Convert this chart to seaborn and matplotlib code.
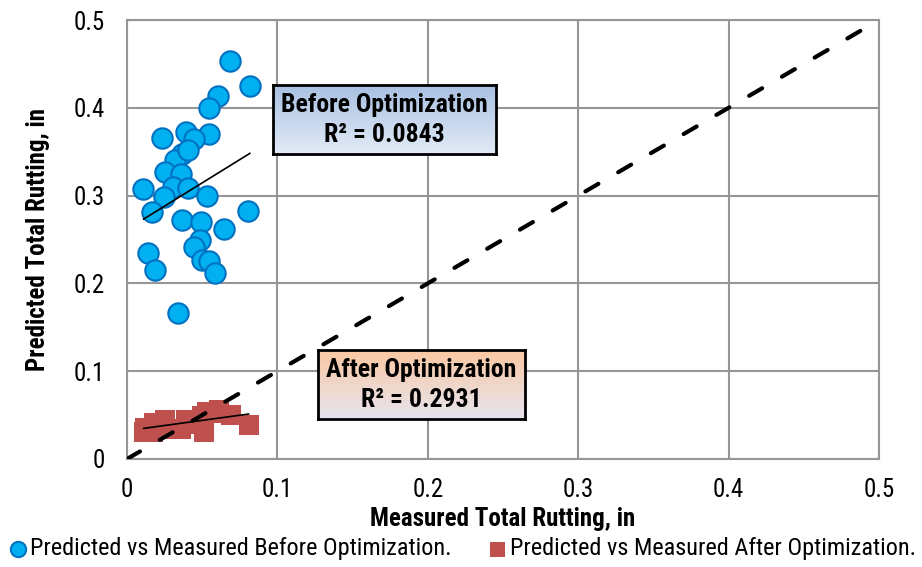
import numpy as np
import pandas as pd
import matplotlib
matplotlib.use("Agg")
import matplotlib.pyplot as plt
from matplotlib import font_manager
import seaborn as sns

# Measured vs predicted total rutting (in), before optimization
before_measured = [0.0685, 0.0818, 0.0603, 0.0547, 0.0235, 0.0392, 0.0547, 0.0445,
                   0.0364, 0.0319, 0.0408, 0.0253, 0.0357, 0.0109, 0.0308, 0.0408,
                   0.0248, 0.0534, 0.0168, 0.0807, 0.0368, 0.0492, 0.0647, 0.0485,
                   0.0445, 0.0142, 0.0497, 0.0545, 0.0186, 0.0585, 0.0337]
before_predicted = [0.453, 0.425, 0.413, 0.400, 0.366, 0.372, 0.370, 0.364,
                    0.347, 0.340, 0.352, 0.327, 0.325, 0.307, 0.310, 0.309,
                    0.298, 0.299, 0.281, 0.282, 0.272, 0.270, 0.262, 0.249,
                    0.241, 0.235, 0.227, 0.226, 0.215, 0.212, 0.166]

# Measured vs predicted total rutting (in), after optimization
after_measured = [0.011, 0.012, 0.017, 0.018, 0.025, 0.027, 0.036, 0.039, 0.042,
                  0.047, 0.050, 0.051, 0.053, 0.057, 0.061, 0.069, 0.081]
after_predicted = [0.031, 0.035, 0.031, 0.041, 0.045, 0.034, 0.034, 0.045, 0.040,
                   0.045, 0.049, 0.031, 0.054, 0.052, 0.056, 0.050, 0.039]

# Line of equality
equality_x = [0.0, 0.49]
equality_y = [0.0, 0.49]

axis_ticks = [0, 0.1, 0.2, 0.3, 0.4, 0.5]
tick_labels = ["0", "0.1", "0.2", "0.3", "0.4", "0.5"]

before_label = "Predicted vs Measured Before Optimization."
after_label = "Predicted vs Measured After Optimization."

sns.set_theme(style="white")

# Pick a condensed sans-serif if one is available
installed = {f.name for f in font_manager.fontManager.ttflist}
candidates = ["Liberation Sans Narrow", "Arial Narrow", "Roboto Condensed",
              "PT Sans Narrow", "Pragati Narrow", "Archivo Narrow",
              "Encode Sans Condensed", "Fira Sans Condensed",
              "IBM Plex Sans Condensed", "Open Sans Condensed", "Liberation Sans"]
family = next(c for c in candidates if c in installed)
plt.rcParams["font.family"] = [family, "DejaVu Sans"]
plt.rcParams["text.color"] = "black"
plt.rcParams["axes.labelcolor"] = "black"

fig = plt.figure(figsize=(9.22, 5.67), dpi=100)
ax = fig.add_axes([127 / 922, 1 - 459 / 567, (879 - 127) / 922, (459 - 20) / 567])

grid_color = "#969696"
ax.set_axisbelow(True)
ax.grid(True, color=grid_color, linewidth=1.5)
for s in ax.spines.values():
    s.set_color(grid_color)
    s.set_linewidth(1.5)

df_before = pd.DataFrame({"x": before_measured, "y": before_predicted})
df_after = pd.DataFrame({"x": after_measured, "y": after_predicted})

sns.scatterplot(data=df_before, x="x", y="y", ax=ax, marker="o", s=215,
                color="#00b0f0", edgecolor="#0070c0", linewidth=1.5,
                label=before_label, zorder=3)
sns.scatterplot(data=df_after, x="x", y="y", ax=ax, marker="s", s=205,
                color="#c0504d", edgecolor="none", linewidth=0,
                label=after_label, zorder=3)

# Linear trendlines
sns.regplot(data=df_before, x="x", y="y", ax=ax, scatter=False, ci=None,
            truncate=True, line_kws={"color": "black", "linewidth": 1.2, "zorder": 4})
sns.regplot(data=df_after, x="x", y="y", ax=ax, scatter=False, ci=None,
            truncate=True, line_kws={"color": "black", "linewidth": 1.2, "zorder": 4})

sns.lineplot(x=equality_x, y=equality_y, ax=ax, color="black", linewidth=3,
             linestyle=(0, (3.6, 5.5)), zorder=5)
ax.lines[-1].set_dash_capstyle("round")

ax.set_xlim(0, 0.5)
ax.set_ylim(0, 0.5)
ax.set_xticks(axis_ticks)
ax.set_yticks(axis_ticks)
ax.set_xticklabels(tick_labels)
ax.set_yticklabels(tick_labels)
ax.tick_params(axis="both", length=5, width=1.5, color=grid_color, direction="out",
               labelsize=18, labelcolor="black")
ax.tick_params(axis="y", pad=11)
ax.tick_params(axis="x", pad=9)
ax.set_xlabel("Measured Total Rutting, in", fontsize=18, fontweight="bold", labelpad=3)
ax.set_ylabel("Predicted Total Rutting, in", fontsize=18, fontweight="bold", labelpad=17)


def gradient_box(x0, y0, x1, y1, top_color, bottom_color, lines):
    # box placed in figure pixel coordinates, filled with a vertical gradient
    fx0, fx1 = x0 / 922, x1 / 922
    fy0, fy1 = 1 - y1 / 567, 1 - y0 / 567
    grad = np.linspace(0, 1, 64).reshape(-1, 1)
    c_top = np.array(matplotlib.colors.to_rgb(top_color))
    c_bot = np.array(matplotlib.colors.to_rgb(bottom_color))
    img = c_top[None, None, :] * (1 - grad[:, :, None]) + c_bot[None, None, :] * grad[:, :, None]
    bax = fig.add_axes([fx0, fy0, fx1 - fx0, fy1 - fy0], zorder=6)
    bax.imshow(img, aspect="auto", extent=[0, 1, 0, 1])
    bax.set_xticks([])
    bax.set_yticks([])
    for s in bax.spines.values():
        s.set_color("black")
        s.set_linewidth(2)
    bax.text(0.5, 0.71, lines[0], ha="center", va="center", fontsize=18.5,
             fontweight="bold", transform=bax.transAxes)
    bax.text(0.5, 0.28, lines[1], ha="center", va="center", fontsize=18.5,
             fontweight="bold", transform=bax.transAxes)


gradient_box(273, 85, 496, 154, "#a8c0e2", "#e2eaf6",
             ["Before Optimization", "R² = 0.0843"])
gradient_box(318, 350, 525, 419, "#fac8a2", "#e6e4ef",
             ["After Optimization", "R² = 0.2931"])

handles, labels = ax.get_legend_handles_labels()
if ax.legend_:
    ax.legend_.remove()
fig.legend(handles[:2], labels[:2], loc="center", bbox_to_anchor=(0.5, 1 - 549 / 567),
           ncol=2, frameon=False, fontsize=17.5, handletextpad=0.0, columnspacing=1.4,
           handlelength=1.0, markerscale=0.75)

fig.savefig("out.png", dpi=100)
